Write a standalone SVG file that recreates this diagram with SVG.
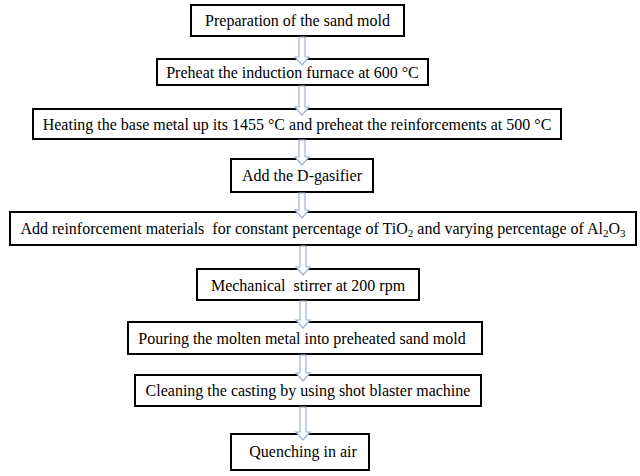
<svg xmlns="http://www.w3.org/2000/svg" width="640" height="476" viewBox="0 0 640 476">
<style>
.box{fill:#ffffff;stroke:#000000;stroke-width:2}
.t{font-family:"Liberation Serif","Times New Roman",serif;font-size:16px;fill:#000000;text-anchor:middle}
.arr{fill:#ffffff;stroke:#9fb3cc;stroke-width:1.2;stroke-linejoin:miter}
</style>
<rect width="640" height="476" fill="#ffffff"/>
<g id="n1"><rect class="box" x="191" y="5" width="213" height="31"/><text class="t" x="297.5" y="26">Preparation of the sand mold</text></g>
<g id="n2"><rect class="box" x="157" y="59" width="271" height="26"/><text class="t" x="292.5" y="77.5">Preheat the induction furnace at 600 °C</text></g>
<g id="n3"><rect class="box" x="33" y="109" width="528" height="30"/><text class="t" x="297" y="129.5">Heating the base metal up its 1455 °C and preheat the reinforcements at 500 °C</text></g>
<g id="n4"><rect class="box" x="231" y="159" width="142" height="33"/><text class="t" x="302" y="181">Add the D-gasifier</text></g>
<g id="n5"><rect class="box" x="10" y="212" width="626" height="33"/><text class="t" x="323" y="233.5" xml:space="preserve">Add reinforcement materials  for constant percentage of TiO<tspan font-size="11" dy="3">2</tspan><tspan dy="-3"> and varying percentage of Al</tspan><tspan font-size="11" dy="3">2</tspan><tspan dy="-3">O</tspan><tspan font-size="11" dy="3">3</tspan></text></g>
<g id="n6"><rect class="box" x="197" y="269" width="222" height="31"/><text class="t" x="308" y="290.5" xml:space="preserve">Mechanical  stirrer at 200 rpm</text></g>
<g id="n7"><rect class="box" x="128" y="322" width="354" height="32"/><text class="t" x="302" y="343.5">Pouring the molten metal into preheated sand mold</text></g>
<g id="n8"><rect class="box" x="135" y="375" width="346" height="31"/><text class="t" x="308" y="396">Cleaning the casting by using shot blaster machine</text></g>
<g id="n9"><rect class="box" x="231" y="434" width="138" height="36"/><text class="t" x="303" y="457">Quenching in air</text></g>
<g id="connectors">
<path class="arr" d="M299,37 V57 H295 L302,65 L309,57 H305 V37 Z"/>
<path class="arr" d="M299,86 V107 H295 L302,115 L309,107 H305 V86 Z"/>
<path class="arr" d="M299,140 V157 H295 L302,165 L309,157 H305 V140 Z"/>
<path class="arr" d="M299,193 V210 H295 L302,218 L309,210 H305 V193 Z"/>
<path class="arr" d="M300,246 V267 H296 L303,275 L310,267 H306 V246 Z"/>
<path class="arr" d="M300,301 V320 H296 L303,328 L310,320 H306 V301 Z"/>
<path class="arr" d="M300,355 V373 H296 L303,381 L310,373 H306 V355 Z"/>
<path class="arr" d="M300,407 V432 H296 L303,440 L310,432 H306 V407 Z"/>
</g>
</svg>
